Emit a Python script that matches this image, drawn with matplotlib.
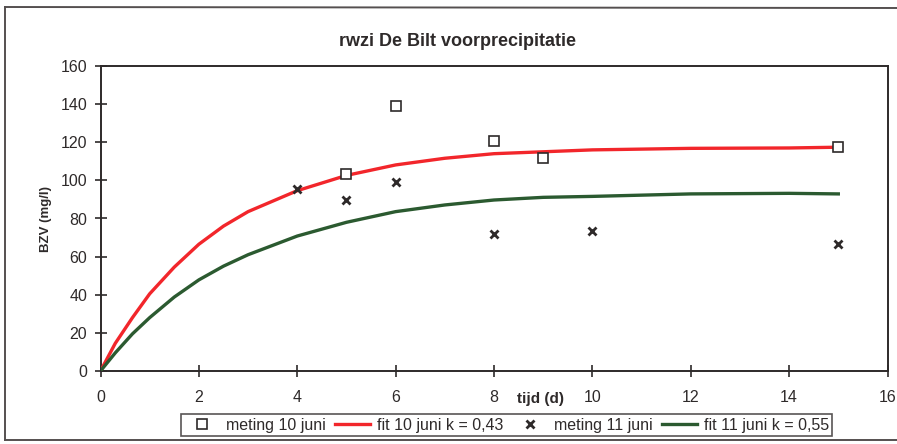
import matplotlib.pyplot as plt
from matplotlib.lines import Line2D

plt.rcParams["font.family"] = ["Liberation Sans", "DejaVu Sans"]

# BZV metingen (mg/l) per dag
t_10 = [5, 6, 8, 9, 15]
bzv_10 = [103.4, 139.0, 120.7, 111.8, 117.5]
t_11 = [4, 5, 6, 8, 10, 15]
bzv_11 = [95.5, 89.7, 99.0, 72.0, 73.5, 66.6]

t_fit = [0, 0.3, 0.65, 1, 1.5, 2, 2.5, 3, 4, 5, 6, 7, 8, 9, 10, 12, 14, 15]
fit_10 = [0, 14.5, 28.0, 40.5, 54.5, 66.5, 76.0, 83.6, 94.6, 102.6, 108.1,
          111.6, 114.0, 115.0, 116.0, 116.8, 117.0, 117.4]
fit_11 = [0, 9.5, 19.5, 28.0, 38.8, 47.8, 55.0, 61.0, 70.8, 78.0, 83.6,
          87.1, 89.7, 91.1, 91.6, 92.9, 93.2, 92.9]

k_10 = "0,43"
k_11 = "0,55"

ink = "#2e2a2a"
red = "#f2262b"
green = "#2b5a30"

fig = plt.figure(figsize=(8.97, 4.44), dpi=100)
ax = fig.add_axes([100.5 / 897, 1 - 371 / 444, 787 / 897, 305 / 444])

ax.plot(t_10, bzv_10, ls="none", marker="s", ms=6.5, mfc="white", mec=ink, mew=1.2,
        label="meting 10 juni", zorder=4)
ax.plot(t_fit, fit_10, color=red, lw=2.4, label=f"fit 10 juni k = {k_10}", zorder=3)
ax.plot(t_11, bzv_11, ls="none", marker="x", ms=5.5, mec=ink, mew=2.0,
        label="meting 11 juni", zorder=4)
ax.plot(t_fit, fit_11, color=green, lw=2.4, label=f"fit 11 juni k = {k_11}", zorder=3)

ax.set_xlim(0, 16)
ax.set_ylim(0, 160)
ax.set_xticks(range(0, 17, 2))
ax.set_yticks(range(0, 161, 20))
ax.tick_params(direction="inout", length=9, width=1.2, color=ink, labelcolor=ink,
               labelsize=11.5, pad=5)
ax.tick_params(axis="x", pad=9)
for s in ax.spines.values():
    s.set_color(ink)
    s.set_linewidth(1.4)

ax.set_ylabel("BZV (mg/l)", fontsize=9.5, fontweight="bold", color=ink, labelpad=6)
ax.text(8.95, -14.5, "tijd (d)", ha="center", va="center", fontsize=11,
        fontweight="bold", color=ink)

fig.text(0.51, 1 - 42 / 444, "rwzi De Bilt voorprecipitatie", ha="center", va="center",
         fontsize=13, fontweight="bold", color=ink)

leg = fig.legend(loc="center", bbox_to_anchor=(506.5 / 897, 1 - 425 / 444), ncol=4,
                 frameon=True, fancybox=False, fontsize=11.5, handlelength=2.2,
                 handletextpad=0.4, columnspacing=0.6, borderpad=0.2,
                 labelcolor=ink)
leg.get_frame().set_edgecolor(ink)
leg.get_frame().set_linewidth(1.2)

# outer frame of the chart area
frame_kw = dict(color="#555050", lw=1.4, transform=fig.transFigure)
fig.add_artist(Line2D([5 / 897, 5 / 897], [1 - 440 / 444, 1 - 7 / 444], **frame_kw))
fig.add_artist(Line2D([5 / 897, 1], [1 - 7 / 444, 1 - 8 / 444], **frame_kw))
fig.add_artist(Line2D([5 / 897, 1], [1 - 440 / 444, 1 - 440 / 444], **frame_kw))

fig.savefig("out.png", dpi=100)
